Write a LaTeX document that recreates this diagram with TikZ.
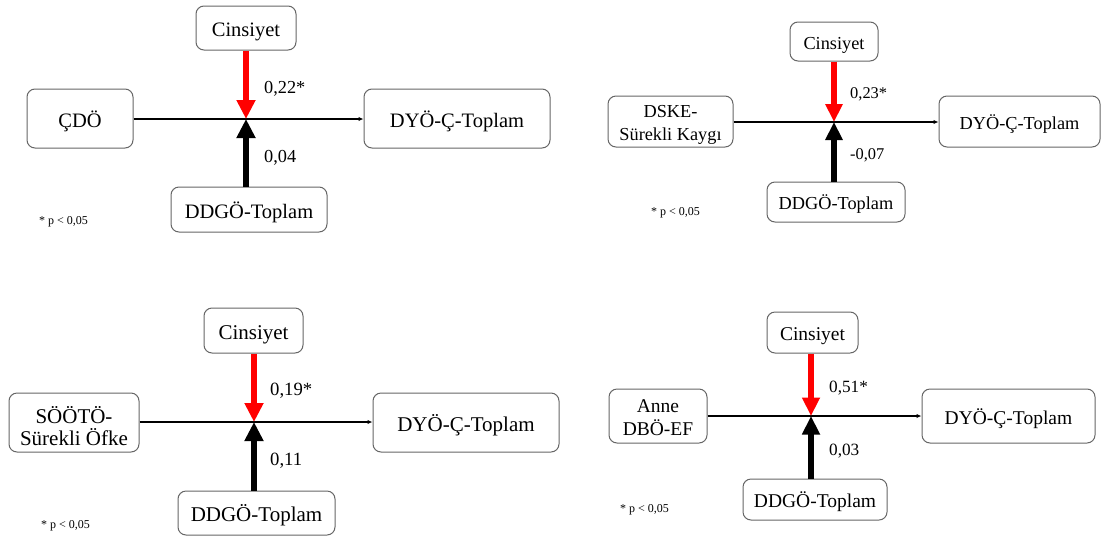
\documentclass[tikz,border=0pt]{standalone}
\usepackage{fontspec}
\setmainfont{Liberation Serif}
\usetikzlibrary{arrows.meta}
\definecolor{boxgray}{HTML}{666666}
\definecolor{modred}{HTML}{FF0000}
\newcommand{\fs}[1]{\fontsize{#1}{#1}\selectfont}
\newcommand{\lift}[1]{\rule{0pt}{#1}}
\tikzset{
  box/.style={draw=boxgray, rounded corners=8pt, line width=1pt, inner sep=0pt,
    align=center, text=black, fill=white},
  twoline/.style={text height=, text depth=},
  mainline/.style={line width=1.4pt, -{Latex[length=5pt,width=4.5pt]}},
  modarrow/.style={line width=#1, draw=modred},
  ctlarrow/.style={line width=#1, draw=black},
  coef/.style={anchor=base west, inner sep=0pt, text=black},
  note/.style={anchor=base west, inner sep=0pt, text=black, font=\fs{12}},
}
\begin{document}
\begin{tikzpicture}[x=1pt,y=-1pt]
\useasboundingbox (0,0) rectangle (1102,536);

% ---------- top left ----------
\begin{scope}[every node/.append style={font=\fs{20.5}, text height=19.5pt, text depth=2.5pt}]
\node[box, minimum width=100pt, minimum height=44pt] (cin1) at (246,28) {Cinsiyet};
\node[box, minimum width=106pt, minimum height=59pt] (cdo) at (80,118.5) {ÇDÖ};
\node[box, minimum width=186pt, minimum height=59pt] (dyo1) at (457,118.5) {DYÖ-Ç-Toplam};
\node[box, minimum width=156pt, minimum height=45pt] (ddg1) at (249,209.5) {DDGÖ-Toplam};
\end{scope}
\coordinate (j1) at (246,119);
\draw[mainline] (cdo.east |- j1) -- (dyo1.west |- j1);
\draw[modarrow=6.4pt, -{Triangle[width=18pt,length=19pt]}, modred] (cin1.south -| j1) -- (j1);
\draw[ctlarrow=6.4pt, -{Triangle[width=18pt,length=19pt]}] (ddg1.north -| j1) -- (j1);
\node[coef, font=\fs{18.3}] (c1a) at (264,93) {0,22*};
\node[coef, font=\fs{18.3}] (c1b) at (264,162) {0,04};
\node[note] (p1) at (39,224) {* p < 0,05};

% ---------- top right ----------
\begin{scope}[every node/.append style={font=\fs{18.3}, text height=17.5pt, text depth=2.3pt}]
\node[box, minimum width=88pt, minimum height=39pt] (cin2) at (834,41.5) {Cinsiyet};
\node[box, twoline, minimum width=125pt, minimum height=51pt, font=\fontsize{18.3}{23}\selectfont] (dske) at (670.5,121.5) {\lift{19.5pt}DSKE-\\Sürekli Kaygı};
\node[box, minimum width=161pt, minimum height=51pt] (dyo2) at (1019.5,121.5) {DYÖ-Ç-Toplam};
\node[box, minimum width=138pt, minimum height=40pt] (ddg2) at (836,202) {DDGÖ-Toplam};
\end{scope}
\coordinate (j2) at (834,122);
\draw[mainline] (dske.east |- j2) -- (dyo2.west |- j2);
\draw[modarrow=6pt, -{Triangle[width=16.5pt,length=18pt]}, modred] (cin2.south -| j2) -- (j2);
\draw[ctlarrow=6pt, -{Triangle[width=16.5pt,length=18pt]}] (ddg2.north -| j2) -- (j2);
\node[coef, font=\fs{16.4}] (c2a) at (850,98) {0,23*};
\node[coef, font=\fs{16.4}] (c2b) at (850,159) {-0,07};
\node[note] (p2) at (651,215) {* p < 0,05};

% ---------- bottom left ----------
\begin{scope}[every node/.append style={font=\fs{21}, text height=20pt, text depth=2.6pt}]
\node[box, minimum width=99pt, minimum height=45pt] (cin3) at (253.5,330.5) {Cinsiyet};
\node[box, twoline, minimum width=130pt, minimum height=59pt, font=\fontsize{21}{22.5}\selectfont] (soo) at (74,422.5) {\lift{24pt}SÖÖTÖ-\\Sürekli Öfke};
\node[box, minimum width=186pt, minimum height=59pt] (dyo3) at (466,422.5) {DYÖ-Ç-Toplam};
\node[box, minimum width=157pt, minimum height=44pt] (ddg3) at (256.5,513) {DDGÖ-Toplam};
\end{scope}
\coordinate (j3) at (254,422);
\draw[mainline] (soo.east |- j3) -- (dyo3.west |- j3);
\draw[modarrow=6.4pt, -{Triangle[width=18pt,length=19pt]}, modred] (cin3.south -| j3) -- (j3);
\draw[ctlarrow=6.4pt, -{Triangle[width=18pt,length=19pt]}] (ddg3.north -| j3) -- (j3);
\node[coef, font=\fs{18.7}] (c3a) at (270,395) {0,19*};
\node[coef, font=\fs{18.7}] (c3b) at (270,465) {0,11};
\node[note] (p3) at (41,528) {* p < 0,05};

% ---------- bottom right ----------
\begin{scope}[every node/.append style={font=\fs{19.5}, text height=18.6pt, text depth=2.4pt}]
\node[box, minimum width=91pt, minimum height=41pt] (cin4) at (812.5,332.5) {Cinsiyet};
\node[box, twoline, minimum width=98pt, minimum height=54pt, font=\fontsize{19.5}{22.5}\selectfont] (anne) at (658,416) {\lift{16pt}Anne\\DBÖ-EF};
\node[box, minimum width=173pt, minimum height=54pt] (dyo4) at (1008.5,416) {DYÖ-Ç-Toplam};
\node[box, minimum width=144pt, minimum height=41pt] (ddg4) at (815,499.5) {DDGÖ-Toplam};
\end{scope}
\coordinate (j4) at (811,416);
\draw[mainline] (anne.east |- j4) -- (dyo4.west |- j4);
\draw[modarrow=6.2pt, -{Triangle[width=17pt,length=18.5pt]}, modred] (cin4.south -| j4) -- (j4);
\draw[ctlarrow=6.2pt, -{Triangle[width=17pt,length=18.5pt]}] (ddg4.north -| j4) -- (j4);
\node[coef, font=\fs{17.2}] (c4a) at (829,392) {0,51*};
\node[coef, font=\fs{17.2}] (c4b) at (829,455) {0,03};
\node[note] (p4) at (620,512) {* p < 0,05};
\end{tikzpicture}
\end{document}
